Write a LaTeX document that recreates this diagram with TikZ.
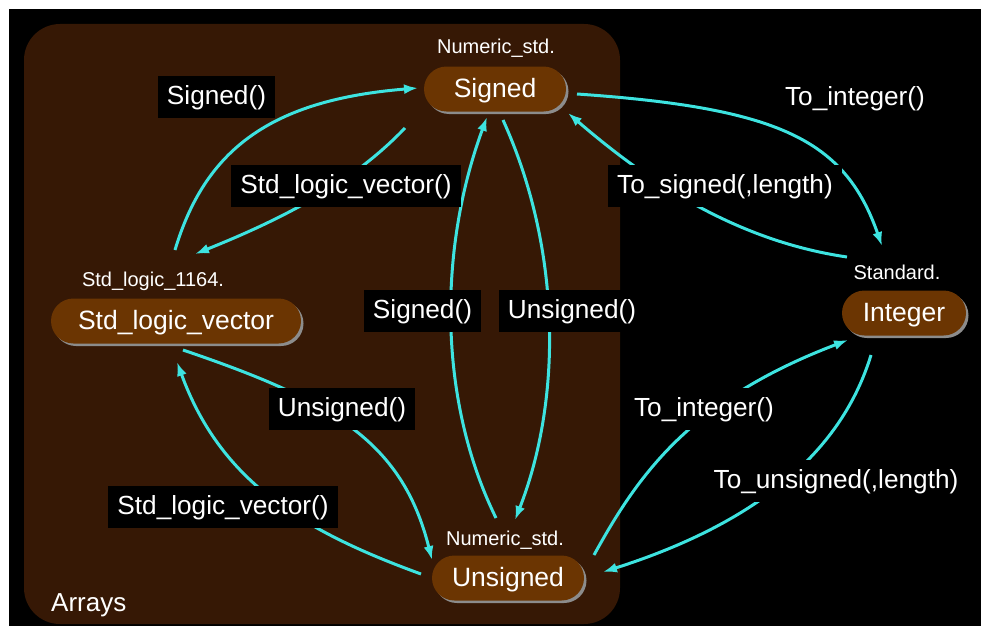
\documentclass[tikz,border=0pt]{standalone}
\usepackage{fontspec}
\setmainfont{Liberation Sans}
\usetikzlibrary{shapes.misc,arrows.meta,shadows}
\definecolor{panelbrown}{HTML}{361805}
\definecolor{nodebrown}{HTML}{6B3502}
\definecolor{rimgray}{HTML}{8C8C8C}
\definecolor{conncyan}{HTML}{3DE3E0}
\begin{document}
\begin{tikzpicture}[x=1pt,y=-1pt,
  typenode/.style={rounded rectangle, fill=nodebrown, text=white,
    font=\fontsize{26.5}{30}\selectfont, minimum height=45pt, inner xsep=0pt,
    text height=20pt, text depth=4pt,
    drop shadow={opacity=1, fill=rimgray, shadow xshift=2.5pt, shadow yshift=-2.5pt}},
  libtext/.style={text=white, font=\fontsize{20}{24}\selectfont, inner sep=0pt},
  convlabel/.style={fill=black, text=white, font=\fontsize{26.2}{30}\selectfont,
    minimum height=42pt, inner xsep=9pt, inner ysep=0pt,
    text height=19pt, text depth=4pt},
  conn/.style={draw=conncyan, line width=3pt, -{Latex[length=14pt,width=10pt]}}
]
\useasboundingbox (0,0) rectangle (981,626);
\fill[white] (0,0) rectangle (981,626);
\fill[black] (9,9) rectangle (981,626);
\fill[panelbrown, rounded corners=36pt] (24,24) rectangle (620,624);

% endpoints
\coordinate (a1s) at (175,250);  \coordinate (a1e) at (418,88);
\coordinate (a2s) at (405,128);  \coordinate (a2e) at (195,254);
\coordinate (a3s) at (577,94);   \coordinate (a3e) at (882,246);
\coordinate (a4s) at (847,257);  \coordinate (a4e) at (568,113);
\coordinate (a5s) at (503,120);  \coordinate (a5e) at (515,520);
\coordinate (a6s) at (496,518);  \coordinate (a6e) at (487,117);
\coordinate (a7s) at (183,350);  \coordinate (a7e) at (432,560);
\coordinate (a8s) at (421,574);  \coordinate (a8e) at (177,362);
\coordinate (a9s) at (594,555);  \coordinate (a9e) at (848,340);
\coordinate (a10s) at (871,355); \coordinate (a10e) at (603,572);

% connectors
\draw[conn] (a1s) .. controls (205,150) and (270,100) .. (a1e);
\draw[conn] (a2s) .. controls (360,175) and (300,212) .. (a2e);
\draw[conn] (a3s) .. controls (780,108) and (845,140) .. (a3e);
\draw[conn] (a4s) .. controls (730,240) and (640,175) .. (a4e);
\draw[conn] (a5s) .. controls (562,250) and (562,400) .. (a5e);
\draw[conn] (a6s) .. controls (438,400) and (438,250) .. (a6e);
\draw[conn] (a7s) .. controls (330,400) and (402,440) .. (a7e);
\draw[conn] (a8s) .. controls (300,530) and (220,480) .. (a8e);
\draw[conn] (a9s) .. controls (638,475) and (690,400) .. (a9e);
\draw[conn] (a10s) .. controls (842,450) and (760,522) .. (a10e);

% conversion labels
\node[convlabel] (lSignedA) at (216.5,96.5) {Signed()};
\node[convlabel] (lSLVa) at (346,186) {Std\_logic\_vector()};
\node[convlabel] (lToIntA) at (855,98) {To\_integer()};
\node[convlabel] (lToSigned) at (725,186) {To\_signed(,length)};
\node[convlabel] (lSignedB) at (422.5,311) {Signed()};
\node[convlabel] (lUnsignedB) at (572,311) {Unsigned()};
\node[convlabel] (lUnsignedC) at (342,409) {Unsigned()};
\node[convlabel] (lSLVb) at (223,507) {Std\_logic\_vector()};
\node[convlabel] (lToIntB) at (704,409) {To\_integer()};
\node[convlabel] (lToUnsigned) at (836,481) {To\_unsigned(,length)};

% library captions
\node[libtext] (libSig) at (496,48) {Numeric\_std.};
\node[libtext] (libSLV) at (153,281) {Std\_logic\_1164.};
\node[libtext] (libInt) at (897,272) {Standard.};
\node[libtext] (libUns) at (505,540) {Numeric\_std.};
\node[libtext, anchor=west, font=\fontsize{26}{30}\selectfont] (arrays) at (51,605) {Arrays};

% type nodes
\node[typenode, minimum width=142pt] (sig) at (495,89) {Signed};
\node[typenode, minimum width=250pt] (slv) at (176,321) {Std\_logic\_vector};
\node[typenode, minimum width=124pt] (int) at (904,313) {Integer};
\node[typenode, minimum width=152pt] (uns) at (508,578) {Unsigned};
\end{tikzpicture}
\end{document}
